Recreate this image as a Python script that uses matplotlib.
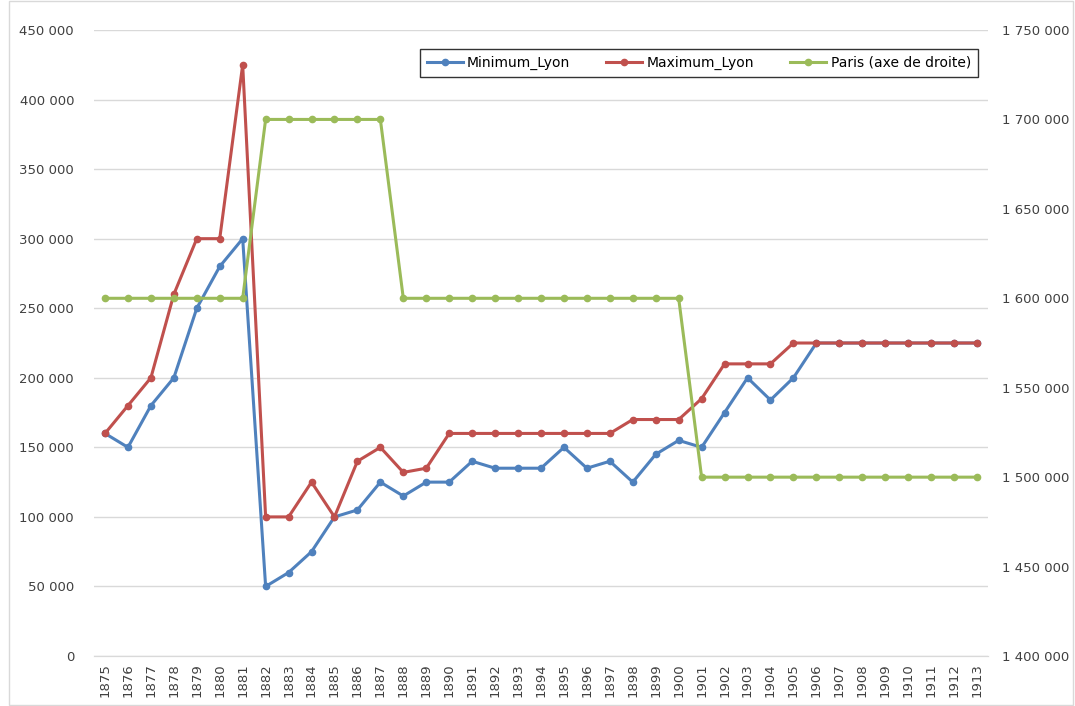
import matplotlib.pyplot as plt
from matplotlib.ticker import FuncFormatter, MultipleLocator
from matplotlib.patches import Rectangle

# ------------------
# Data
# ------------------
years = list(range(1875, 1914))

minimum_lyon = [160000, 150000, 180000, 200000, 250000, 280000, 300000,
                50000, 60000, 75000, 100000, 105000, 125000, 115000,
                125000, 125000, 140000, 135000, 135000, 135000, 150000,
                135000, 140000, 125000, 145000, 155000, 150000, 175000,
                200000, 184000, 200000, 225000, 225000, 225000, 225000,
                225000, 225000, 225000, 225000]

maximum_lyon = [160000, 180000, 200000, 260000, 300000, 300000, 425000,
                100000, 100000, 125000, 100000, 140000, 150000, 132000,
                135000, 160000, 160000, 160000, 160000, 160000, 160000,
                160000, 160000, 170000, 170000, 170000, 185000, 210000,
                210000, 210000, 225000, 225000, 225000, 225000, 225000,
                225000, 225000, 225000, 225000]

paris = [1600000] * 7 + [1700000] * 6 + [1600000] * 13 + [1500000] * 13

labels = ["Minimum_Lyon", "Maximum_Lyon", "Paris (axe de droite)"]

# ------------------
# Plot
# ------------------
BLUE, RED, GREEN = "#4f81bd", "#c0504d", "#9bbb59"
TXT = "#404040"


def fmt(v, pos=None):
    return f"{v:,.0f}".replace(",", " ")


fig = plt.figure(figsize=(10.75, 7.06), dpi=100)
fig.patches.append(Rectangle((0.008, 0.002), 0.99, 0.996, transform=fig.transFigure,
                             fill=False, edgecolor="#d9d9d9", linewidth=1))
ax = fig.add_axes([0.087, 0.0708, 0.8325, 0.8867])
ax2 = ax.twinx()

x = list(range(len(years)))
kw = dict(linewidth=2.2, marker="o", markersize=4.5)
l1, = ax.plot(x, minimum_lyon, color=BLUE, label=labels[0], **kw)
l2, = ax.plot(x, maximum_lyon, color=RED, label=labels[1], **kw)
l3, = ax2.plot(x, paris, color=GREEN, label=labels[2], **kw)

ax.set_xlim(-0.5, len(years) - 0.5)
ax.set_ylim(0, 450000)
ax2.set_ylim(1400000, 1750000)
ax.yaxis.set_major_locator(MultipleLocator(50000))
ax2.yaxis.set_major_locator(MultipleLocator(50000))
ax.yaxis.set_major_formatter(FuncFormatter(fmt))
ax2.yaxis.set_major_formatter(FuncFormatter(fmt))

ax.set_xticks(x)
ax.set_xticklabels([str(y) for y in years], rotation=90, fontsize=9.5, color=TXT)
ax.tick_params(axis="x", length=0, pad=5)
ax.tick_params(axis="y", length=0, pad=14, labelsize=9.5, labelcolor=TXT)
ax2.tick_params(axis="y", length=0, pad=10, labelsize=9.5, labelcolor=TXT)

ax.grid(axis="y", color="#d9d9d9", linewidth=1)
ax.set_axisbelow(True)
for a in (ax, ax2):
    for s in ("top", "left", "right"):
        a.spines[s].set_visible(False)
    a.spines["bottom"].set_color("#d9d9d9")

leg = ax2.legend(handles=[l1, l2, l3], loc="upper right", bbox_to_anchor=(0.988, 0.97),
                 ncol=3, fontsize=10, frameon=True, fancybox=False, handlelength=2.6,
                 handletextpad=0.3, columnspacing=2.6, borderpad=0.5, borderaxespad=0)
leg.get_frame().set_edgecolor("black")
leg.get_frame().set_linewidth(1)

fig.savefig("out.png", dpi=100)
